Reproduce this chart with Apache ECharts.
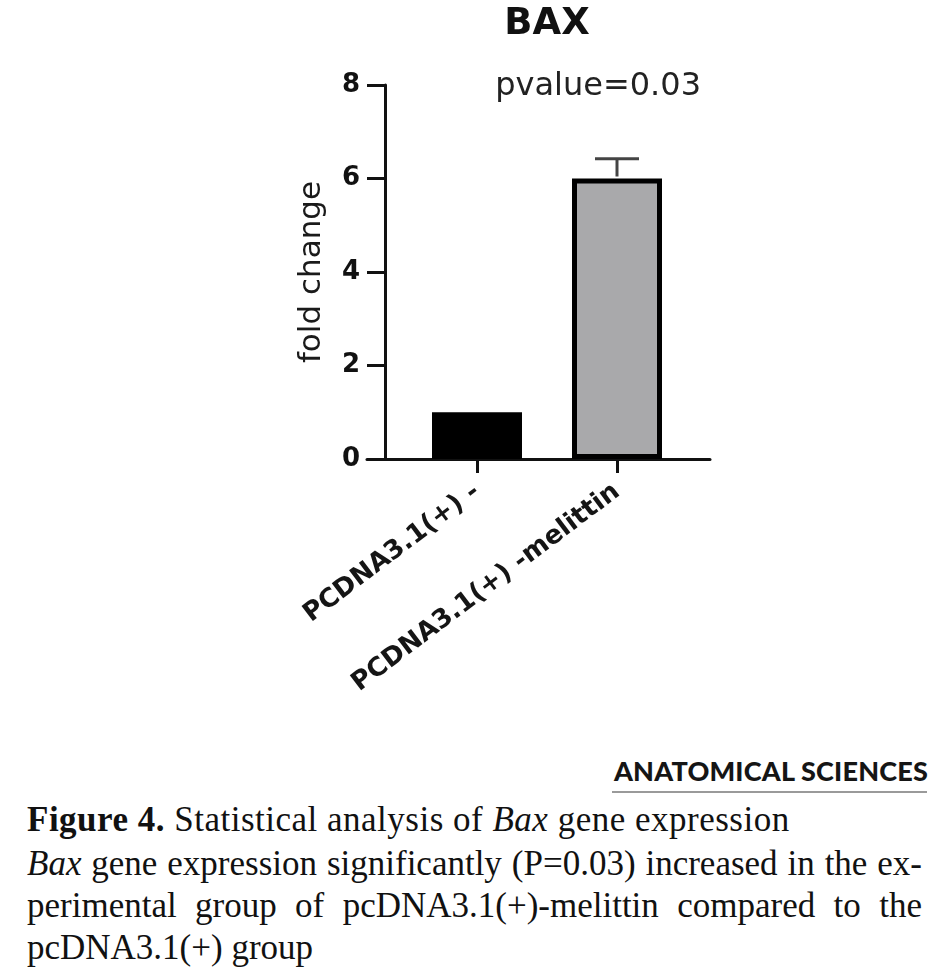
<!DOCTYPE html>
<html>
<head>
<meta charset="utf-8">
<script src="https://cdn.jsdelivr.net/npm/echarts@6/dist/echarts.min.js"></script>
<style>
  html, body { margin: 0; padding: 0; background: #fff; }
  #page { position: relative; width: 932px; height: 980px; overflow: hidden; }
  #chart { position: absolute; left: 0; top: 0; width: 932px; height: 740px; }
  #logo {
    position: absolute; right: 4px; top: 755px;
    font-family: Lato, sans-serif; font-weight: 900; font-size: 27px;
    line-height: 31px; color: #151515; white-space: nowrap; letter-spacing: 0.2px;
  }
  #rule { position: absolute; left: 612px; top: 791px; width: 315px; height: 2px; background: #9a9a9a; }
  .cap {
    position: absolute; left: 27px; width: 895px;
    font-family: "Liberation Serif", serif; font-size: 35px; line-height: 42px; color: #111;
  }
  .just { text-align: justify; text-align-last: justify; }
</style>
</head>
<body>
<div id="page">
  <div id="chart"></div>
  <div id="logo">ANATOMICAL SCIENCES</div>
  <div id="rule"></div>
  <div class="cap" style="top:799px; letter-spacing:0.5px"><b>Figure 4.</b> Statistical analysis of <i>Bax</i> gene expression</div>
  <div class="cap" style="top:843px">
    <div class="just"><i>Bax</i> gene expression significantly (P=0.03) increased in the ex-</div>
    <div class="just">perimental group of pcDNA3.1(+)-melittin compared to the</div>
    <div>pcDNA3.1(+) group</div>
  </div>
</div>
<script>
// data
var categories = ['PCDNA3.1(+) -', 'PCDNA3.1(+) -melittin'];
var foldChange = [1.0, 6.0];
var errorTop = [1.0, 6.42];
var yMin = 0, yMax = 8, yStep = 2;
var chartTitle = 'BAX';
var pText = 'pvalue=0.03';

var barColors = ['#000000', '#a9a9ab'];
var font = 'DejaVu Sans';

var chart = echarts.init(document.getElementById('chart'));

chart.setOption({
    animation: false,
    textStyle: { fontFamily: font },
    grid: [
        { left: 407, top: 85, width: 280, height: 374 },
        { left: 367, top: 85, width: 343, height: 374 }
    ],
    graphic: [
        {
            type: 'text', x: 547, y: 24,
            style: { text: chartTitle, font: 'bold 37px ' + font, fill: '#111', textAlign: 'center', textVerticalAlign: 'middle' }
        },
        {
            type: 'text', x: 701, y: 87,
            style: { text: pText, font: '32px ' + font, fill: '#222', textAlign: 'right', textVerticalAlign: 'middle' }
        }
    ],
    xAxis: [
        {
            type: 'category',
            gridIndex: 0,
            data: categories,
            axisLine: { show: false },
            axisTick: { show: true, alignWithLabel: true, length: 14, lineStyle: { color: '#111', width: 3 } },
            axisLabel: { interval: 0, rotate: 37, margin: 30, fontSize: 26, fontWeight: 'bold', color: '#151515' },
            splitLine: { show: false }
        },
        {
            type: 'value',
            gridIndex: 1,
            min: 0,
            max: 1,
            axisLine: { show: true, lineStyle: { color: '#111', width: 3 } },
            axisTick: { show: false },
            axisLabel: { show: false },
            splitLine: { show: false }
        }
    ],
    yAxis: [
        {
            type: 'value',
            gridIndex: 0,
            offset: 22,
            min: yMin,
            max: yMax,
            interval: yStep,
            name: 'fold change',
            nameLocation: 'middle',
            nameGap: 58,
            nameTextStyle: { fontSize: 31, color: '#1a1a1a' },
            axisLine: { show: true, lineStyle: { color: '#111', width: 3 } },
            axisTick: { show: true, length: 18, lineStyle: { color: '#111', width: 3 } },
            axisLabel: { margin: 25, fontSize: 26, fontWeight: 'bold', color: '#111' },
            splitLine: { show: false }
        },
        {
            type: 'value',
            gridIndex: 1,
            show: false,
            min: yMin,
            max: yMax
        }
    ],
    series: [
        {
            name: 'fold change',
            type: 'bar',
            xAxisIndex: 0,
            yAxisIndex: 0,
            barWidth: 90,
            data: foldChange,
            itemStyle: {
                color: function (p) { return barColors[p.dataIndex]; },
                borderColor: '#000',
                borderWidth: 5
            }
        },
        {
            name: 'error',
            type: 'custom',
            xAxisIndex: 0,
            yAxisIndex: 0,
            z: 3,
            data: categories.map(function (c, i) { return [i, foldChange[i], errorTop[i]]; }),
            renderItem: function (params, api) {
                if (api.value(2) <= api.value(1)) return null;
                var base = api.coord([api.value(0), api.value(1)]);
                var top = api.coord([api.value(0), api.value(2)]);
                var half = 22;
                var style = { stroke: '#444', lineWidth: 3 };
                return {
                    type: 'group',
                    children: [
                        { type: 'line', shape: { x1: base[0], y1: base[1] - 2, x2: top[0], y2: top[1] }, style: style },
                        { type: 'line', shape: { x1: top[0] - half, y1: top[1], x2: top[0] + half, y2: top[1] }, style: style }
                    ]
                };
            }
        }
    ]
});
</script>
</body>
</html>
